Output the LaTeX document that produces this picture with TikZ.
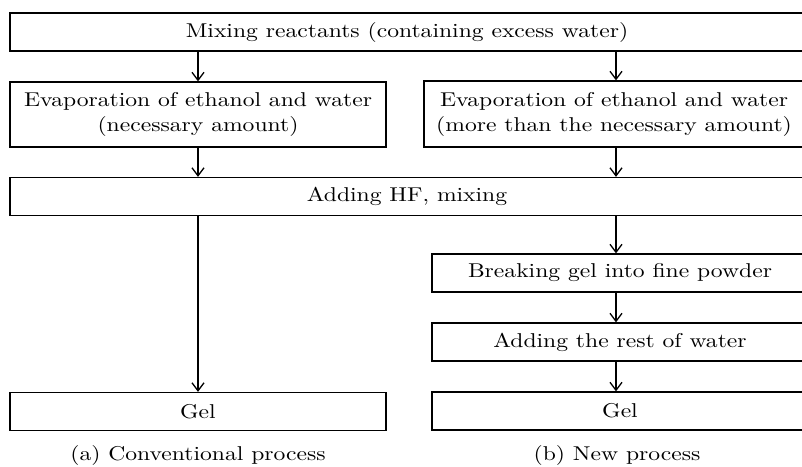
\documentclass[tikz,border=0pt]{standalone}
\usepackage{fontspec}
\setmainfont{Latin Modern Roman}[FakeStretch=1.18]
\usetikzlibrary{arrows.meta, positioning, chains}
\tikzset{
  stage/.style={
    rectangle,
    minimum height=19pt,
    inner sep=0pt,
    align=center,
    draw=black,
    line width=0.65pt,
    font=\fontsize{10}{12.5}\selectfont
  },
  wide/.style={
    stage,
    minimum width=397pt
  },
  half/.style={
    stage,
    minimum width=188pt
  },
  arrow/.style={line width=0.65pt,-{Straight Barb[length=4pt,width=6pt]}},
  caption/.style={font=\fontsize{10}{12.5}\selectfont}
}

\begin{document}
\begin{tikzpicture}[x=0.5pt, y=-0.5pt,
      every join/.style={arrow},
      node distance=14.85pt
    ]
    \useasboundingbox (0,0) rectangle (802,466);
    \node (mix) [wide] at (407,32) {Mixing reactants (containing excess water)};
    \node (evapL) [stage, minimum width=188pt, minimum height=32.5pt] at (198,114.5)
      {Evaporation of ethanol and water\\(necessary amount)};
    \node (evapR) [stage, minimum width=190pt, minimum height=33pt] at (614,114)
      {Evaporation of ethanol and water\\(more than the necessary amount)};
    \node (hf) [wide] at (407,196.5) {Adding HF, mixing};
    \begin{scope}[start chain=going below]
      \node (brk) [half, on chain] at (620,273) {Breaking gel into fine powder};
      \node (rest) [half, on chain] {Adding the rest of water};
      \node (gelR) [half, on chain] {Gel};
    \end{scope}
    \node (gelL) [stage, minimum width=188pt] at (198,411.5) {Gel};
    \node (capA) [caption] at (198,455) {(a) Conventional process};
    \node (capB) [caption] at (617,455) {(b) New process};
    \coordinate (rx) at (616,0);
    % left column
    \draw[arrow] (mix.south -| evapL.north) -- (evapL.north);
    \draw[arrow] (evapL.south) -- (hf.north -| evapL.south);
    \draw[arrow] (hf.south -| gelL.north) -- (gelL.north);
    % right column
    \draw[arrow] (mix.south -| rx) -- (evapR.north -| rx);
    \draw[arrow] (evapR.south -| rx) -- (hf.north -| rx);
    \draw[arrow] (hf.south -| rx) -- (brk.north -| rx);
    \draw[arrow] (brk.south -| rx) -- (rest.north -| rx);
    \draw[arrow] (rest.south -| rx) -- (gelR.north -| rx);
\end{tikzpicture}
\end{document}
